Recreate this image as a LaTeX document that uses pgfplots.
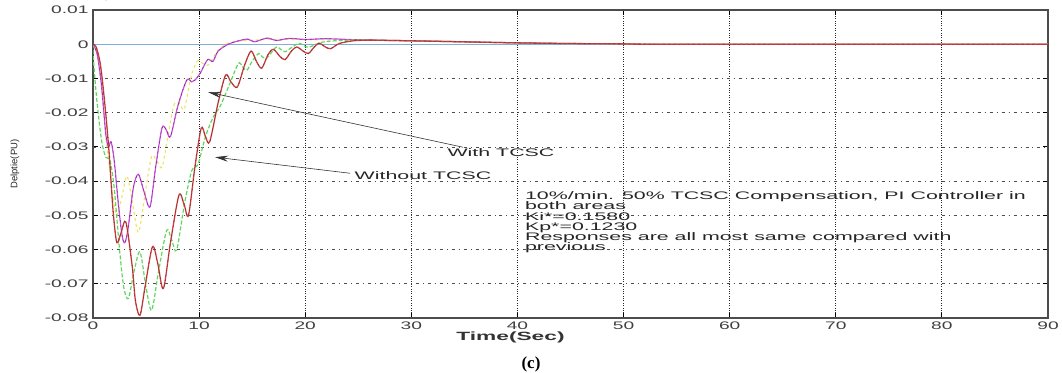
\documentclass[border=0pt]{standalone}
\usepackage{fontspec}
\setmainfont{Liberation Sans}
\newfontfamily\tickfont[FakeStretch=1.75]{Liberation Sans}
\newfontfamily\labfont[FakeStretch=1.9]{Liberation Sans}
\newfontfamily\annfont[FakeStretch=1.95]{Liberation Sans}
\newfontfamily\serifb{Liberation Serif}
\usepackage{pgfplots}
\usepackage{pgfplotstable}
\pgfplotsset{compat=1.18}
\usetikzlibrary{arrows.meta}

\definecolor{cred}{RGB}{210,60,60}
\definecolor{cgreen}{RGB}{95,215,95}
\definecolor{cmag}{RGB}{200,80,220}
\definecolor{cyel}{RGB}{235,228,95}
\definecolor{cblue}{RGB}{130,175,215}

\pgfplotstableread{
t v
0 0
0.3 -0.0008
0.7 -0.006
1.1 -0.017
1.5 -0.031
1.9 -0.049
2.25 -0.058
2.65 -0.055
3.1 -0.052
3.7 -0.065
4.0 -0.075
4.43 -0.0792
4.9 -0.071
5.6 -0.0592
6.1 -0.064
6.63 -0.0714
7.3 -0.058
8.1 -0.0441
8.6 -0.047
9.0 -0.050
9.6 -0.036
10.2 -0.0245
10.6 -0.027
11.0 -0.0285
11.8 -0.017
12.5 -0.009
13.0 -0.011
13.6 -0.0125
14.3 -0.006
14.9 -0.002
15.4 -0.005
15.9 -0.007
16.5 -0.003
17.0 -0.0015
17.6 -0.0035
18.1 -0.0045
18.7 -0.002
19.2 -0.0008
19.8 -0.002
20.3 -0.0027
20.8 -0.001
21.3 0.0003
21.9 -0.0008
22.4 -0.0013
23.2 0.0002
24.5 0.0010
26 0.0012
28 0.0011
30 0.0010
35 0.0007
40 0.0004
45 0.0002
50 0.0001
55 0
90 0
}\redtab

\pgfplotstableread{
t v
0 0
0.03 -0.004
0.35 -0.016
0.8 -0.028
1.2 -0.033
1.6 -0.034
2.0 -0.042
2.5 -0.060
2.9 -0.071
3.33 -0.0743
3.9 -0.066
4.43 -0.0607
5.0 -0.071
5.53 -0.0777
6.2 -0.066
6.94 -0.0544
7.4 -0.057
7.88 -0.0602
8.6 -0.047
9.3 -0.037
9.9 -0.035
10.6 -0.027
11.3 -0.0215
12.0 -0.018
12.9 -0.0115
13.7 -0.0056
14.1 -0.0066
14.5 -0.0076
15.0 -0.005
15.6 -0.0027
15.9 -0.0035
16.3 -0.0042
16.8 -0.0025
17.3 -0.0008
17.7 -0.0015
18.1 -0.0022
18.7 -0.001
19.4 0.0003
19.8 -0.0003
20.3 -0.0009
21.2 0.0002
22.0 0.0008
24 0.0012
26 0.0012
30 0.0010
35 0.0007
40 0.0004
45 0.0002
50 0.0001
55 0
90 0
}\greentab

\pgfplotstableread{
t v
0 0
0.4 -0.003
0.8 -0.012
1.2 -0.026
1.45 -0.030
1.7 -0.0285
2.0 -0.034
2.4 -0.047
2.75 -0.056
3.0 -0.058
3.3 -0.054
3.8 -0.042
4.27 -0.038
4.8 -0.043
5.37 -0.0475
5.9 -0.036
6.5 -0.0245
6.9 -0.025
7.3 -0.027
8.0 -0.018
8.83 -0.0105
9.3 -0.011
9.6 -0.0105
10.1 -0.0085
10.8 -0.0045
11.3 -0.0050
11.8 -0.002
12.75 0.0000
13.6 0.0009
14.6 0.0015
15.2 0.0007
16.4 0.0018
17.3 0.0011
18.5 0.0017
20 0.0014
22 0.0016
25 0.0013
30 0.0010
35 0.0007
40 0.0004
45 0.0002
50 0.0001
55 0
90 0
}\magtab

\pgfplotstableread{
t v
0 0
0.4 -0.003
0.8 -0.013
1.2 -0.027
1.6 -0.037
1.9 -0.045
2.25 -0.050
2.7 -0.045
3.2 -0.0385
3.7 -0.046
4.27 -0.055
4.8 -0.046
5.5 -0.033
6.0 -0.034
6.5 -0.036
7.0 -0.028
7.6 -0.018
8.1 -0.017
8.6 -0.019
9.2 -0.010
9.8 -0.005
10.3 -0.0055
10.9 -0.006
11.7 -0.002
12.5 0.0000
13.5 0.0008
15 0.0012
17 0.0014
20 0.0013
25 0.0012
30 0.0010
35 0.0007
40 0.0004
45 0.0002
50 0.0001
55 0
90 0
}\yeltab

\begin{document}
\begin{tikzpicture}
\path[use as bounding box] (0,0) rectangle (1062bp,373bp);
\begin{axis}[
  scale only axis, width=955bp, height=308bp,
  at={(93bp,55bp)}, anchor=south west,
  xmin=0, xmax=90, ymin=-0.08, ymax=0.01,
  xtick={0,10,20,30,40,50,60,70,80,90},
  xticklabels={0,10,20,30,40,50,60,70,80,90},
  ytick={-0.08,-0.07,-0.06,-0.05,-0.04,-0.03,-0.02,-0.01,0,0.01},
  yticklabels={-0.08,-0.07,-0.06,-0.05,-0.04,-0.03,-0.02,-0.01,0,0.01},
  grid=major,
  x grid style={black!85, line width=0.8pt, dash pattern=on 0.8pt off 1.6pt},
  y grid style={black!70, line width=0.7pt, dash pattern=on 3pt off 4pt on 1pt off 4pt},
  axis line style={black!70, line width=1.1pt},
  tick style={black, line width=0.8pt},
  major tick length=5bp,
  tick align=inside,
  ticklabel style={font=\tickfont\fontsize{11}{12}\selectfont, text=black!75},
  yticklabel style={xshift=-1bp},
  xlabel={Time(Sec)},
  xlabel style={at={(axis description cs:0.5,0)}, anchor=center, xshift=-60bp, yshift=-19bp,
     font=\labfont\bfseries\fontsize{12}{13}\selectfont, text=black!80},
  ylabel={Delptie(PU)},
  ylabel style={at={(axis description cs:0,0.5)}, anchor=center, yshift=78bp,
     font=\fontsize{9.5}{10}\selectfont, text=black!85},
]
\addplot[cblue, line width=1.2pt] coordinates {(0,0) (90,0)};
\addplot[cyel, line width=1.1pt, dashed, smooth] table[x=t,y=v] {\yeltab};
\addplot[cmag, line width=1.2pt, smooth] table[x=t,y=v] {\magtab};
\addplot[black!50!cmag, line width=0.4pt, dash pattern=on 2pt off 3pt, smooth] table[x=t,y=v] {\magtab};
\addplot[cgreen, line width=1.2pt, dash pattern=on 4pt off 2pt, smooth] table[x=t,y=v] {\greentab};
\addplot[cred, line width=1.3pt, smooth] table[x=t,y=v] {\redtab};
\addplot[black!75, line width=0.4pt, dash pattern=on 2pt off 3pt, smooth] table[x=t,y=v] {\redtab};

\draw[black!80, line width=0.6pt, -{Stealth[length=13bp,width=6bp]}] (axis cs:34.87,-0.0301) -- (axis cs:10.84,-0.0140);
\draw[black!80, line width=0.6pt, -{Stealth[length=13bp,width=6bp]}] (axis cs:24.22,-0.0377) -- (axis cs:11.5,-0.0330);
\node[font=\annfont\fontsize{11}{12}\selectfont, text=black!85, inner sep=0] at (axis cs:38.45,-0.0316) {With TCSC};
\node[font=\annfont\fontsize{11}{12}\selectfont, text=black!85, inner sep=0] at (axis cs:31.1,-0.0383) {Without TCSC};
\node[font=\annfont\fontsize{11}{10.3}\selectfont, text=black!85, inner sep=0, anchor=north west, align=left]
  at (axis cs:40.7,-0.0430) {10\%/min. 50\% TCSC Compensation, PI Controller in\\both areas\\Ki*=0.1580\\Kp*=0.1230\\Responses are all most same compared with\\previous};
\end{axis}
\node[font=\serifb\bfseries\fontsize{17}{19}\selectfont] at (531bp,9bp) {(c)};
\end{tikzpicture}
\end{document}
